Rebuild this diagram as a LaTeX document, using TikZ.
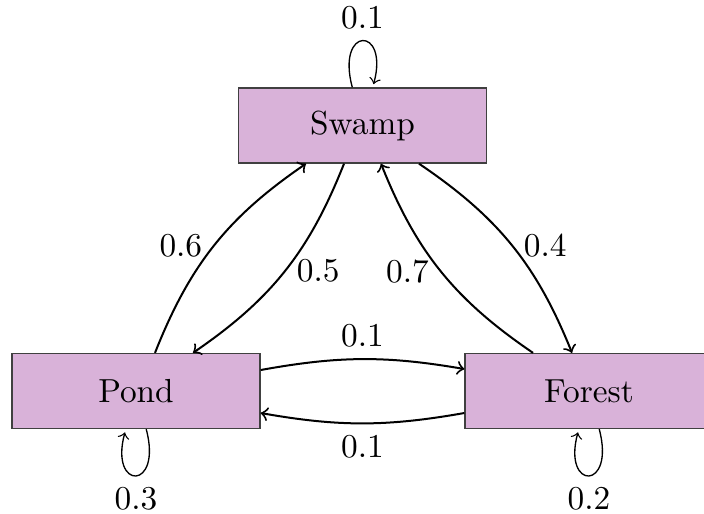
\documentclass[tikz,border=0pt]{standalone}
\usetikzlibrary{calc}
\begin{document}
\begin{tikzpicture}[x=0.3pt,y=-0.3pt,
  state/.style={draw=black!75, fill=violet!30, minimum width=74.4pt, minimum height=22.5pt, inner sep=0pt},
  trans/.style={->, semithick},
  selfloop/.style={->, thin}]
\useasboundingbox (0,0) rectangle (704,513);
\node[state] (swamp) at (362.5,125.5) {Swamp};
\node[state] (pond) at (136,391) {Pond};
\node[state] (forest) at (589,391) {Forest};

\draw[trans] ($(pond.north)+(19,0)$) to[bend left=17] node[left] {0.6} ($(swamp.south)+(-56.5,0)$);
\draw[trans] ($(swamp.south)+(-18.5,0)$) to[bend left=17] node[right] {0.5} ($(pond.north)+(57,0)$);
\draw[trans] ($(forest.north)+(-56,0)$) to[bend left=17] node[left] {0.7} ($(swamp.south)+(18.5,0)$);
\draw[trans] ($(swamp.south)+(56.5,0)$) to[bend left=17] node[right] {0.4} ($(forest.north)+(-17,0)$);
\draw[trans] ($(pond.east)+(0,-21)$) to[bend left=10] node[above] {0.1} ($(forest.west)+(0,-22)$);
\draw[trans] ($(forest.west)+(0,22)$) to[bend left=10] node[below] {0.1} ($(pond.east)+(0,22)$);

\path (swamp) edge[selfloop, loop above] node[above] {0.1} ();
\path (pond) edge[selfloop, loop below] node[below] {0.3} ();
\path (forest) edge[selfloop, loop below] node[below] {0.2} ();
\end{tikzpicture}
\end{document}
